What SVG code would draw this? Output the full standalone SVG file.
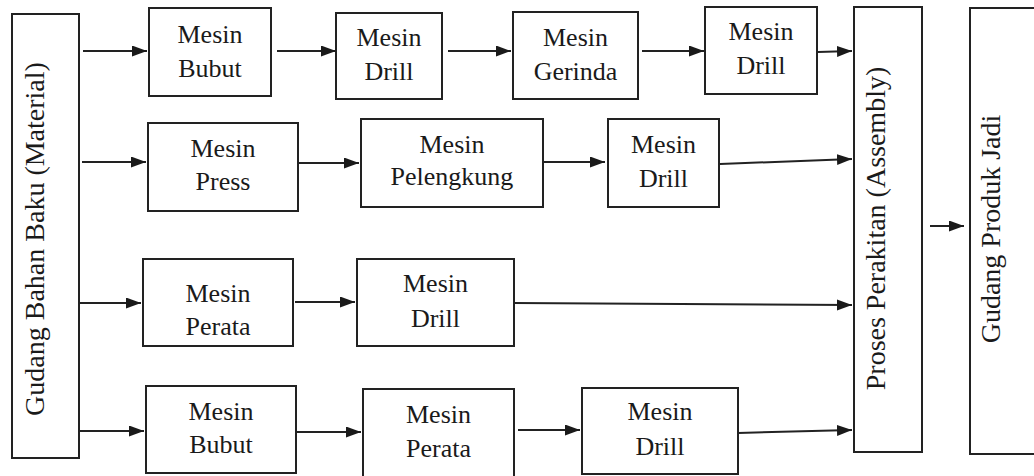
<svg xmlns="http://www.w3.org/2000/svg" width="1034" height="476" viewBox="0 0 1034 476">
<style>
.box{fill:#fff;stroke:#222;stroke-width:2}
.t{font-family:"Liberation Serif","Times New Roman",serif;font-size:26px;fill:#1a1a1a;text-anchor:middle}
.v{font-family:"Liberation Serif","Times New Roman",serif;font-size:28px;fill:#1a1a1a;text-anchor:middle}
.c line{stroke:#222;stroke-width:2;marker-end:url(#ah)}
</style>
<defs>
<marker id="ah" markerUnits="userSpaceOnUse" markerWidth="16" markerHeight="12" refX="15" refY="5.5" orient="auto"><path d="M0,0 L15,5.5 L0,11 z" fill="#1a1a1a"/></marker>
</defs>
<rect width="1034" height="476" fill="#fff"/>
<g id="gudang-bahan"><rect class="box" x="12" y="14" width="67" height="444"/><text class="v" transform="translate(44,239) rotate(-90)">Gudang Bahan Baku (Material)</text></g>
<g id="r1-bubut"><rect class="box" x="149" y="8" width="122" height="88"/><text class="t" x="210" y="43">Mesin</text><text class="t" x="210" y="77">Bubut</text></g>
<g id="r1-drill"><rect class="box" x="336" y="13" width="106" height="86"/><text class="t" x="389" y="46">Mesin</text><text class="t" x="389" y="80">Drill</text></g>
<g id="r1-gerinda"><rect class="box" x="513" y="12" width="125" height="87"/><text class="t" x="575.5" y="46">Mesin</text><text class="t" x="575.5" y="80">Gerinda</text></g>
<g id="r1-drill2"><rect class="box" x="705" y="7" width="112" height="87"/><text class="t" x="761" y="40">Mesin</text><text class="t" x="761" y="74">Drill</text></g>
<g id="r2-press"><rect class="box" x="148" y="123" width="150" height="88"/><text class="t" x="223" y="157">Mesin</text><text class="t" x="223" y="190">Press</text></g>
<g id="r2-pelengkung"><rect class="box" x="361" y="119" width="182" height="88"/><text class="t" x="452" y="153">Mesin</text><text class="t" x="452" y="185">Pelengkung</text></g>
<g id="r2-drill"><rect class="box" x="608" y="119" width="111" height="88"/><text class="t" x="663.5" y="153">Mesin</text><text class="t" x="663.5" y="187">Drill</text></g>
<g id="r3-perata"><rect class="box" x="143" y="259" width="150" height="87"/><text class="t" x="218" y="302">Mesin</text><text class="t" x="218" y="335">Perata</text></g>
<g id="r3-drill"><rect class="box" x="357" y="259" width="157" height="87"/><text class="t" x="435.5" y="292">Mesin</text><text class="t" x="435.5" y="327">Drill</text></g>
<g id="r4-bubut"><rect class="box" x="146" y="386" width="150" height="87"/><text class="t" x="221" y="420">Mesin</text><text class="t" x="221" y="453">Bubut</text></g>
<g id="r4-perata"><rect class="box" x="363" y="389" width="151" height="92"/><text class="t" x="438.5" y="423">Mesin</text><text class="t" x="438.5" y="457">Perata</text></g>
<g id="r4-drill"><rect class="box" x="582" y="388" width="156" height="86"/><text class="t" x="660" y="420">Mesin</text><text class="t" x="660" y="455">Drill</text></g>
<g id="proses"><rect class="box" x="854" y="7" width="68" height="445"/><text class="v" transform="translate(885,228.5) rotate(-90)">Proses Perakitan (Assembly)</text></g>
<g id="gudang-produk"><rect class="box" x="970" y="8" width="80" height="446"/><text class="v" transform="translate(1000,229) rotate(-90)">Gudang Produk Jadi</text></g>
<g class="c" id="connectors">
<line x1="83" y1="51" x2="147" y2="51"/>
<line x1="277" y1="51" x2="336" y2="51"/>
<line x1="448" y1="51" x2="511" y2="51"/>
<line x1="642" y1="51" x2="704" y2="51"/>
<line x1="818" y1="52" x2="852" y2="51"/>
<line x1="82" y1="162" x2="146" y2="162"/>
<line x1="298" y1="163" x2="359" y2="163"/>
<line x1="543" y1="162" x2="605" y2="162"/>
<line x1="720" y1="164" x2="852" y2="159"/>
<line x1="80" y1="303" x2="141" y2="303"/>
<line x1="295" y1="302" x2="355" y2="302"/>
<line x1="514" y1="303" x2="852" y2="305"/>
<line x1="80" y1="431" x2="144" y2="431"/>
<line x1="296" y1="432" x2="361" y2="432"/>
<line x1="518" y1="430" x2="580" y2="430"/>
<line x1="738" y1="433" x2="852" y2="430"/>
<line x1="930" y1="226" x2="964" y2="226"/>
</g>
</svg>
